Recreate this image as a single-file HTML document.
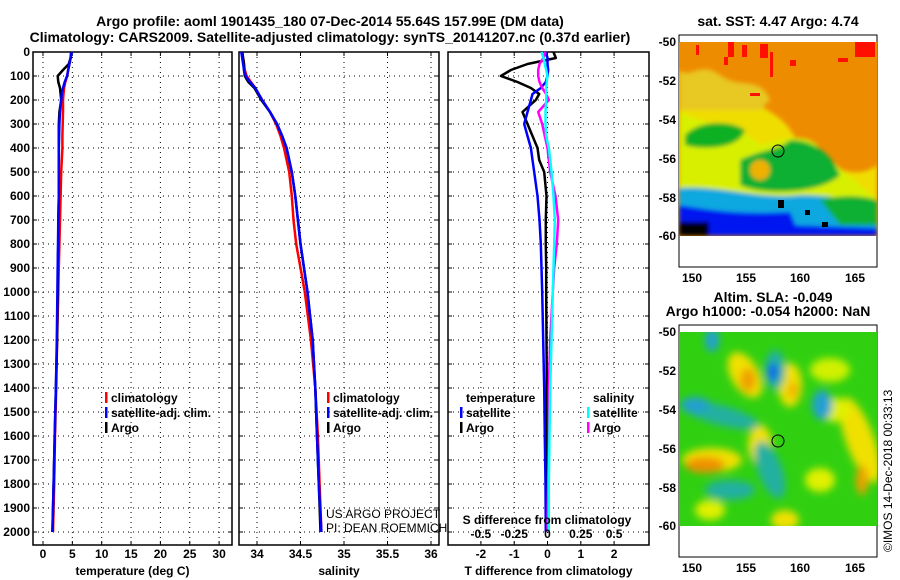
<!DOCTYPE html>
<html><head><meta charset="utf-8">
<style>
html,body{margin:0;padding:0;background:#fff;}
svg{display:block;font-family:"Liberation Sans",sans-serif;}
.tk{font-size:12px;font-weight:bold;fill:#000;}
.tt{font-size:14px;font-weight:bold;fill:#000;}
.lg{font-size:12px;font-weight:bold;fill:#000;}
</style></head>
<body>
<svg id="chart" width="900" height="580" viewBox="0 0 900 580">
<defs>
<filter id="bl" x="-20%" y="-20%" width="140%" height="140%"><feGaussianBlur stdDeviation="4"/></filter>
<filter id="bl2" x="-20%" y="-20%" width="140%" height="140%"><feGaussianBlur stdDeviation="2"/></filter>
<clipPath id="cm1"><rect x="679" y="42" width="198" height="194"/></clipPath>
<clipPath id="cm2"><rect x="679" y="332" width="198" height="194"/></clipPath>
</defs>
<text class="tt" x="330" y="26" text-anchor="middle">Argo profile: aoml 1901435_180 07-Dec-2014 55.64S 157.99E (DM data)</text>
<text class="tt" x="330" y="42" text-anchor="middle">Climatology: CARS2009. Satellite-adjusted climatology: synTS_20141207.nc (0.37d earlier)</text>

<!-- maps -->
<g>
<text class="tt" x="778" y="26" text-anchor="middle" font-size="12">sat. SST: 4.47 Argo: 4.74</text>
<rect x="679" y="35" width="198" height="232" fill="#fff" stroke="#000"/>
<g clip-path="url(#cm1)">
<rect x="679" y="42" width="198" height="194" fill="#ee8c00"/>
<g filter="url(#bl2)">
<path d="M679,90 C700,95 730,80 750,100 C775,115 790,120 800,150 C830,170 860,180 877,165 L877,236 L679,236 Z" fill="#f0dd00"/>
<path d="M679,70 C690,80 700,60 720,75 C740,90 760,75 770,100 L760,110 L679,110Z" fill="#e8c820"/>
<path d="M679,110 C700,125 740,125 760,145 C780,140 810,130 820,150 C840,170 850,175 877,200 L877,236 L679,236 Z" fill="#d8f000"/>
<path d="M685,135 C700,120 730,120 745,130 C740,150 700,150 685,145 Z" fill="#10b020"/>
<path d="M740,160 C760,150 780,150 790,140 C810,140 830,150 840,175 C820,195 760,195 740,185 Z" fill="#10b030"/>
<ellipse cx="760" cy="170" rx="10" ry="10" fill="#f0b000"/>
<path d="M679,188 C720,185 760,200 800,195 C830,195 850,200 877,205 L877,236 L679,236Z" fill="#10a8e0"/>
<path d="M820,200 C840,195 860,195 877,200 L877,225 L840,225Z" fill="#10b030"/>
<path d="M679,205 C710,210 740,215 790,212 L800,236 L679,236Z" fill="#0018f0"/>
<path d="M790,225 L877,228 L877,236 L790,236Z" fill="#0018f0"/>
<rect x="679" y="222" width="30" height="14" fill="#000"/>
</g>
<g fill="#ff1000">
<rect x="728" y="42" width="6" height="15"/><rect x="742" y="45" width="5" height="12"/><rect x="760" y="44" width="8" height="14"/><rect x="770" y="52" width="3" height="25"/><rect x="855" y="42" width="20" height="15"/><rect x="724" y="57" width="4" height="8"/><rect x="790" y="60" width="6" height="6"/><rect x="750" y="93" width="10" height="3"/><rect x="696" y="45" width="3" height="10"/><rect x="838" y="58" width="10" height="4"/>
</g>
<g fill="#000"><rect x="778" y="200" width="6" height="8"/><rect x="805" y="210" width="5" height="5"/><rect x="822" y="222" width="6" height="5"/></g>
</g>
<circle cx="778" cy="151" r="6" fill="none" stroke="#000"/>
<g class="tk">
<text x="676" y="46" text-anchor="end">-50</text><text x="676" y="85" text-anchor="end">-52</text><text x="676" y="124" text-anchor="end">-54</text><text x="676" y="163" text-anchor="end">-56</text><text x="676" y="202" text-anchor="end">-58</text><text x="676" y="240" text-anchor="end">-60</text>
<text x="692" y="282" text-anchor="middle">150</text><text x="746" y="282" text-anchor="middle">155</text><text x="800" y="282" text-anchor="middle">160</text><text x="855" y="282" text-anchor="middle">165</text>
</g>
</g>

<g>
<text class="tt" x="773" y="302" text-anchor="middle" font-size="12">Altim. SLA: -0.049</text>
<text class="tt" x="768" y="316" text-anchor="middle" font-size="12">Argo h1000: -0.054 h2000: NaN</text>
<rect x="679" y="325" width="198" height="232" fill="#fff" stroke="#000"/>
<g clip-path="url(#cm2)">
<rect x="679" y="332" width="198" height="194" fill="#30d010"/>
<g filter="url(#bl)">
<ellipse cx="745" cy="375" rx="14" ry="25" fill="#f0e000" transform="rotate(-30 745 375)"/>
<ellipse cx="748" cy="380" rx="8" ry="12" fill="#f0a000"/>
<ellipse cx="790" cy="385" rx="12" ry="22" fill="#f0e000"/>
<ellipse cx="793" cy="390" rx="5" ry="8" fill="#f0b000"/>
<ellipse cx="712" cy="460" rx="30" ry="12" fill="#f0e000"/>
<ellipse cx="705" cy="465" rx="20" ry="8" fill="#f09000"/>
<ellipse cx="760" cy="445" rx="12" ry="20" fill="#f0e000"/>
<ellipse cx="860" cy="440" rx="14" ry="45" fill="#f0e000" transform="rotate(-20 860 440)"/>
<ellipse cx="862" cy="480" rx="6" ry="15" fill="#f0a000"/>
<ellipse cx="835" cy="410" rx="15" ry="12" fill="#e0f000"/>
<ellipse cx="820" cy="480" rx="15" ry="12" fill="#e0f000"/>
<ellipse cx="710" cy="510" rx="15" ry="10" fill="#e0f000"/>
<ellipse cx="785" cy="520" rx="14" ry="10" fill="#f0e000"/>
<ellipse cx="830" cy="370" rx="20" ry="12" fill="#d0f000"/>
<ellipse cx="775" cy="370" rx="10" ry="20" fill="#20b0a0"/>
<ellipse cx="773" cy="372" rx="5" ry="9" fill="#1060f0"/>
<ellipse cx="720" cy="415" rx="40" ry="10" fill="#20b0a0" transform="rotate(15 720 415)"/>
<ellipse cx="695" cy="405" rx="15" ry="8" fill="#20a0d0"/>
<ellipse cx="770" cy="470" rx="12" ry="30" fill="#20b0a0" transform="rotate(-20 770 470)"/>
<ellipse cx="730" cy="490" rx="25" ry="10" fill="#20b0a0"/>
<ellipse cx="822" cy="405" rx="10" ry="15" fill="#20a0d0"/>
<ellipse cx="712" cy="340" rx="7" ry="12" fill="#20a0d0"/>
</g>
</g>
<circle cx="778" cy="441" r="6" fill="none" stroke="#000"/>
<g class="tk">
<text x="676" y="336" text-anchor="end">-50</text><text x="676" y="375" text-anchor="end">-52</text><text x="676" y="414" text-anchor="end">-54</text><text x="676" y="453" text-anchor="end">-56</text><text x="676" y="492" text-anchor="end">-58</text><text x="676" y="530" text-anchor="end">-60</text>
<text x="692" y="572" text-anchor="middle">150</text><text x="746" y="572" text-anchor="middle">155</text><text x="800" y="572" text-anchor="middle">160</text><text x="855" y="572" text-anchor="middle">165</text>
</g>
<text x="0" y="0" font-size="12" transform="translate(892 552) rotate(-90)" fill="#000">©IMOS 14-Dec-2018 00:33:13</text>
</g>

<g id="plots"></g>
</svg>
<script>
const depths=[0,25,50,75,100,125,150,175,200,250,300,350,400,450,500,600,700,800,900,1000,1200,1400,1600,1800,2000];
const argoT=[4.8,4.7,4.4,3.4,2.5,2.6,2.9,3.0,3.1,2.8,2.7,2.7,2.7,2.7,2.7,2.7,2.6,2.6,2.5,2.5,2.4,2.2,2.0,1.8,1.6];
const satT=[4.9,4.7,4.5,4.3,4.1,3.7,3.4,3.2,3.1,2.9,2.8,2.75,2.7,2.7,2.7,2.7,2.6,2.55,2.5,2.45,2.35,2.2,2.0,1.8,1.6];
const climT=[4.8,4.7,4.5,4.3,4.1,3.8,3.6,3.5,3.4,3.4,3.35,3.3,3.3,3.2,3.1,3.0,2.9,2.8,2.7,2.6,2.4,2.25,2.05,1.9,1.7];
const argoS=[33.83,33.84,33.85,33.85,33.86,33.9,33.97,34.01,34.05,34.15,34.23,34.29,34.34,34.37,34.4,34.44,34.47,34.5,34.54,34.58,34.64,34.67,34.69,34.71,34.73];
const satS=[33.82,33.83,33.84,33.85,33.87,33.92,33.98,34.02,34.06,34.15,34.23,34.29,34.34,34.37,34.4,34.44,34.47,34.5,34.54,34.58,34.64,34.67,34.69,34.71,34.74];
const climS=[33.83,33.84,33.85,33.86,33.88,33.93,33.98,34.02,34.06,34.15,34.22,34.27,34.31,34.34,34.37,34.4,34.42,34.45,34.5,34.55,34.62,34.67,34.7,34.72,34.74];
const argoTd=[0.18,0.25,-0.6,-1.1,-1.4,-0.9,-0.5,-0.25,-0.35,-0.75,-0.6,-0.45,-0.3,-0.25,-0.1,-0.03,-0.05,-0.05,-0.04,-0.04,-0.03,-0.02,-0.02,-0.02,-0.01];
const satTd=[-0.05,0,0,0.02,0,-0.05,-0.2,-0.45,-0.5,-0.6,-0.7,-0.6,-0.5,-0.45,-0.4,-0.3,-0.24,-0.2,-0.18,-0.16,-0.13,-0.1,-0.08,-0.06,-0.05];
const argoSd=[-0.015,-0.03,-0.06,-0.07,-0.07,-0.06,-0.04,-0.01,0.01,-0.07,-0.04,-0.02,0.0,0.01,0.02,0.06,0.08,0.07,0.05,0.04,0.02,0.01,0.01,0.005,0.0];
const satSd=[-0.045,-0.03,-0.02,-0.01,0,-0.005,-0.01,-0.01,-0.01,-0.015,-0.015,-0.01,0.01,0.02,0.03,0.045,0.055,0.05,0.045,0.04,0.03,0.02,0.015,0.01,0.01];
const depthTicks=[0,100,200,300,400,500,600,700,800,900,1000,1100,1200,1300,1400,1500,1600,1700,1800,1900,2000];
const tTicks=[0,5,10,15,20,25,30];
const sTicks=[34,34.5,35,35.5,36];
const tdTicks=[-2,-1,0,1,2];
const sdTicks=[-0.5,-0.25,0,0.25,0.5];
const sdTickLabels=["-0.5","-0.25","0","0.25","0.5"];

const NS='http://www.w3.org/2000/svg';
const root=document.getElementById('plots');
const yD=d=>52+d*0.24;
const xT=v=>43+v*5.87;
const xS=v=>257+(v-34)*87;
const xTd=v=>547.5+v*33.3;
const xSd=v=>547.5+v*133.2;
function mk(tag,attrs,parent){const e=document.createElementNS(NS,tag);for(const k in attrs)e.setAttribute(k,attrs[k]);(parent||root).appendChild(e);return e;}
function panel(name,x0,x1,xticks,xf,xlabels,xtitle,showY){
  const g=mk('g',{});
  
  
  const y0=52,y1=545;
  xticks.forEach(v=>{const l=mk('line',{x1:xf(v),x2:xf(v),y1:y0,y2:y1,stroke:'#000','stroke-dasharray':'1 4'},g);
    
    mk('line',{x1:xf(v),x2:xf(v),y1:y1,y2:y1-4,stroke:'#000'},g);mk('line',{x1:xf(v),x2:xf(v),y1:y0,y2:y0+4,stroke:'#000'},g);});
  depthTicks.forEach(d=>{const l=mk('line',{x1:x0,x2:x1,y1:yD(d),y2:yD(d),stroke:'#000','stroke-dasharray':'1 4'},g);
    
    mk('line',{x1:x0,x2:x0+4,y1:yD(d),y2:yD(d),stroke:'#000'},g);mk('line',{x1:x1-4,x2:x1,y1:yD(d),y2:yD(d),stroke:'#000'},g);
    if(showY){const t=mk('text',{x:x0-3,y:yD(d)+4,'text-anchor':'end',class:'tk'},g);t.textContent=d;
      }});
  if(xlabels){xticks.forEach((v,i)=>{const t=mk('text',{x:xf(v),y:558,'text-anchor':'middle',class:'tk'},g);t.textContent=xlabels[i];
    });}
  const tt=mk('text',{x:(x0+x1)/2,y:575,'text-anchor':'middle',class:'tk'},g);tt.textContent=xtitle;
  
  mk('rect',{x:x0,y:y0,width:x1-x0,height:y1-y0,fill:'none',stroke:'#000','stroke-width':1.5},g);
  return g;
}
function line(g,vals,xf,color,name){
  const pts=vals.map((v,i)=>xf(v).toFixed(1)+','+yD(depths[i]).toFixed(1)).join(' ');
  const p=mk('polyline',{points:pts,fill:'none',stroke:color,'stroke-width':2.5,'stroke-linejoin':'round'},g);
  
  
}
function legend(g,x,y,items,name){
  const lg=mk('g',{},g);
  
  
  items.forEach((it,i)=>{if(!it)return;const yy=y+i*15;
    if(it[0])mk('rect',{x:x,y:yy-10,width:2.5,height:11,fill:it[0]},lg);
    const t=mk('text',{x:x+6,y:yy,class:'lg'},lg);t.textContent=it[1];});
}
const g1=panel('temperature-panel',33,232,tTicks,xT,tTicks.map(String),'temperature (deg C)',true);
line(g1,climT,xT,'#ff0000','clim-temperature-line');
line(g1,argoT,xT,'#000','argo-temperature-line');
line(g1,satT,xT,'#0000ff','sat-temperature-line');
legend(g1,105,402,[['#ff0000','climatology'],['#0000ff','satellite-adj. clim.'],['#000','Argo']],'temperature-legend');

const g2=panel('salinity-panel',239,439,sTicks,xS,sTicks.map(String),'salinity',false);
line(g2,climS,xS,'#ff0000','clim-salinity-line');
line(g2,argoS,xS,'#000','argo-salinity-line');
line(g2,satS,xS,'#0000ff','sat-salinity-line');
legend(g2,327,402,[['#ff0000','climatology'],['#0000ff','satellite-adj. clim.'],['#000','Argo']],'salinity-legend');
const c1=mk('text',{x:326,y:518,'font-size':'12',fill:'#000'},g2);c1.textContent='US ARGO PROJECT';


const c2=mk('text',{x:326,y:532,'font-size':'12',fill:'#000'},g2);c2.textContent='PI: DEAN ROEMMICH';



const g3=panel('difference-panel',448,649,tdTicks,xTd,tdTicks.map(String),'T difference from climatology',false);
line(g3,argoTd,xTd,'#000','argo-t-diff-line');
line(g3,satTd,xTd,'#0000ff','sat-t-diff-line');
line(g3,argoSd,xSd,'#ff00ff','argo-s-diff-line');
line(g3,satSd,xSd,'#00ffff','sat-s-diff-line');
legend(g3,460,402,[[null,'temperature'],['#0000ff','satellite'],['#000','Argo']],'t-diff-legend');
legend(g3,587,402,[[null,'salinity'],['#00ffff','satellite'],['#ff00ff','Argo']],'s-diff-legend');
const sdt=mk('text',{x:547,y:524,'text-anchor':'middle',class:'tk'},g3);sdt.textContent='S difference from climatology';


sdTicks.forEach((v,i)=>{const t=mk('text',{x:xSd(v),y:538,'text-anchor':'middle',class:'tk'},g3);t.textContent=sdTickLabels[i];
  
  });
</script>
</body></html>
